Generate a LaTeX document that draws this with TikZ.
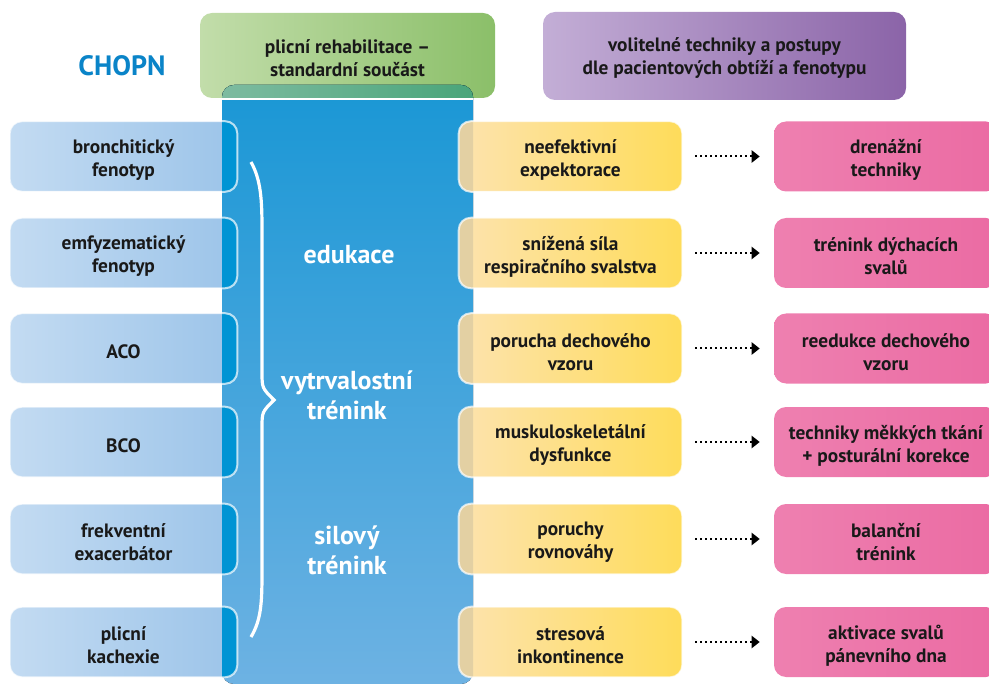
\documentclass[tikz,border=0pt]{standalone}
\usepackage{fontspec}
\setmainfont{PT Sans}
\usetikzlibrary{arrows.meta}
\definecolor{chopnblue}{RGB}{10,132,200}
\definecolor{greenL}{RGB}{194,221,170}
\definecolor{greenR}{RGB}{139,191,105}
\definecolor{purpleL}{RGB}{195,174,214}
\definecolor{purpleR}{RGB}{139,100,168}
\definecolor{phenoL}{RGB}{195,219,242}
\definecolor{phenoR}{RGB}{156,196,233}
\definecolor{problemL}{RGB}{253,227,174}
\definecolor{problemR}{RGB}{254,220,90}
\definecolor{techL}{RGB}{238,128,176}
\definecolor{techR}{RGB}{235,107,163}
\definecolor{columnT}{RGB}{26,151,213}
\definecolor{columnB}{RGB}{109,178,227}
\definecolor{overlapL}{RGB}{125,187,160}
\definecolor{overlapR}{RGB}{74,165,122}
\definecolor{phenoover}{RGB}{0,148,212}
\definecolor{problemover}{RGB}{227,208,163}
\tikzset{%
    boxtext/.style={%
        inner sep=0pt, align=center, text=black!90,
        font=\bfseries\fontsize{14.5}{17.25}\selectfont
    },
    header/.style={boxtext, rounded corners=9pt},
    phenotype/.style={rounded corners=9pt, minimum width=170.25pt,
        minimum height=52.5pt, left color=phenoL, right color=phenoR},
    problem/.style={rounded corners=9pt, minimum width=167.25pt,
        minimum height=52.5pt, left color=problemL, right color=problemR},
    technique/.style={rounded corners=9pt, minimum width=168pt,
        minimum height=52.5pt, left color=techL, right color=techR},
    boxedge/.style={draw=white, draw opacity=0.7, line width=1.5pt, rounded corners=9pt},
    component/.style={text=white, align=center,
        font=\bfseries\fontsize{19.5}{22.5}\selectfont},
    dotarrow/.style={line width=1.5pt, dash pattern=on 1.5pt off 2.25pt,
        -{Triangle[length=6pt,width=9pt]}, shorten <=9.75pt, shorten >=10.5pt}
}
\begin{document}
\begin{tikzpicture}[x=0.75pt,y=-0.75pt]
    \clip (0,0) rectangle (989,684);
    % headers
    \node[text=chopnblue, font=\bfseries\fontsize{21}{24}\selectfont] (chopn) at (122,66) {CHOPN};
    \node[header, minimum width=221.25pt, minimum height=63.75pt,
        left color=greenL, right color=greenR] (standard) at (347.5,55.5) {};
    \node[boxtext] (standard-t) at (347.5,58) {plicní rehabilitace --\\standardní součást};
    \node[header, minimum width=272.25pt, minimum height=66pt,
        left color=purpleL, right color=purpleR] (optional) at (724.5,56) {};
    \node[boxtext] (optional-t) at (724.5,58.5) {volitelné techniky a postupy\\dle pacientových obtíží a fenotypu};
    % standard column
    \fill[top color=columnT, bottom color=columnB, rounded corners=9pt] (222,85) rectangle (473,684);
    \begin{scope}
        \clip (0,0) rectangle (989,98);
        \fill[left color=overlapL, right color=overlapR, rounded corners=9pt] (222,85) rectangle (473,684);
    \end{scope}
    \draw[white, line width=1.5pt] (222,99.5) -- (473,99.5);
    \draw[white, line width=2.4pt] (251,162) .. controls (261,180) and (262,200) .. (262,230)
        -- (262,372) .. controls (262,388) .. (274,400) .. controls (262,412) .. (262,428)
        -- (262,572) .. controls (262,604) and (261,620) .. (251,637);
    \node[component] (edu) at (349,255) {edukace};
    \node[component] (endur) at (347,395) {vytrvalostní\\trénink};
    \node[component] (strength) at (347,550) {silový\\trénink};
    % rows
    \foreach \y/\a/\b/\c [count=\i] in {%
        156.5/{bronchitický\\fenotyp}/{neefektivní\\expektorace}/{drenážní\\techniky},
        253/{emfyzematický\\fenotyp}/{snížená síla\\respiračního svalstva}/{trénink dýchacích\\svalů},
        348.5/{ACO}/{porucha dechového\\vzoru}/{reedukce dechového\\vzoru},
        442/{BCO}/{muskuloskeletální\\dysfunkce}/{techniky měkkých tkání\\+ posturální korekce},
        539/{frekventní\\exacerbátor}/{poruchy\\rovnováhy}/{balanční\\trénink},
        642/{plicní\\kachexie}/{stresová\\inkontinence}/{aktivace svalů\\pánevního dna}}
    {
    \node[phenotype] (L\i) at (123.5,\y) {};
    \node[problem] (P\i) at (570.5,\y) {};
    \node[technique] (T\i) at (886,\y) {};
    \draw[dotarrow] (P\i) -- (T\i);
    }
    \begin{scope}
        \clip (222,0) rectangle (473,684);
        \foreach \i in {1,...,6}
        {
        \fill[phenoover, rounded corners=9pt] (L\i.north west) rectangle (L\i.south east);
        \fill[problemover, rounded corners=9pt] (P\i.north west) rectangle (P\i.south east);
        }
    \end{scope}
    \foreach \i in {1,...,6}
    {
    \draw[boxedge] (L\i.north west) rectangle (L\i.south east);
    \draw[boxedge] (P\i.north west) rectangle (P\i.south east);
    }
    % box texts
    \foreach \a/\b/\c [count=\i] in {%
        {bronchitický\\fenotyp}/{neefektivní\\expektorace}/{drenážní\\techniky},
        {emfyzematický\\fenotyp}/{snížená síla\\respiračního svalstva}/{trénink dýchacích\\svalů},
        {ACO}/{porucha dechového\\vzoru}/{reedukce dechového\\vzoru},
        {BCO}/{muskuloskeletální\\dysfunkce}/{techniky měkkých tkání\\+ posturální korekce},
        {frekventní\\exacerbátor}/{poruchy\\rovnováhy}/{balanční\\trénink},
        {plicní\\kachexie}/{stresová\\inkontinence}/{aktivace svalů\\pánevního dna}}
    {
    \node[boxtext] (L\i-t) at ([yshift=-2.6pt]L\i.center) {\a};
    \node[boxtext] (P\i-t) at ([yshift=-2.6pt]P\i.center) {\b};
    \node[boxtext] (T\i-t) at ([yshift=-2.6pt]T\i.center) {\c};
    }
\end{tikzpicture}
\end{document}
